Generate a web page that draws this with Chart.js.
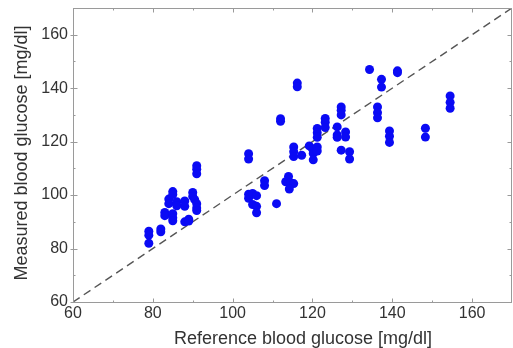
<!DOCTYPE html>
<html><head><meta charset="utf-8">
<script src="https://cdn.jsdelivr.net/npm/chart.js@4.4.0/dist/chart.umd.min.js"></script>
<style>html,body{margin:0;padding:0;background:#fff;overflow:hidden}</style>
</head><body>
<canvas id="c" width="513" height="348"></canvas>
<script>
const referenceGlucose = [79,79,79,82,82,83,83,84,84,85,85,85,85,85,86,86,88,88,88,89,89,90,90,90.5,91,91,91,91,91,91,
  104,104,104,104,105,106,105,106,106,108,108,111,112,112,113.3,114,114.5,115.3,114.2,115.3,115.3,115.3,116.2,116.2,
  117.3,119.2,120,120.2,120.2,121.2,121.2,121.2,121.2,121.2,123.2,123.2,123.2,126.2,126.2,126.2,127.2,127.2,127.2,127.2,
  128.3,128.3,129.3,129.3,134.3,136.3,136.3,136.3,137.3,137.3,139.3,139.3,139.3,141.3,141.3,148.3,148.3,154.5,154.5,154.5];
const measuredGlucose = [86.5,85,82,87.3,86.3,93.5,92.3,98.5,96.8,101.3,100.2,93,91.5,90.4,97.5,96,97.8,95.8,90,91,90.3,101,99.5,98.3,111,109.7,108,96.8,95.2,94.2,
  115.5,113.5,100.3,98.8,100.6,99.8,96.5,95.8,93.4,105.4,103.6,96.8,128.6,127.6,105,107,104.6,104.3,102.3,118,116.2,114.4,141.9,140.5,
  114.9,118.4,117.3,115.6,113.2,118,116.5,124.9,123.3,121.6,128.7,127.3,125.3,125.5,122.5,121.6,133,131.7,130,116.8,
  123.6,121.7,116.2,113.5,147,133,130.8,128.9,143.3,140.4,124,122,119.7,146.5,145.8,125,121.7,137.1,134.7,132.5];
const identityLine = [60, 170];
const axisMin = 60, axisMax = 170;
const majorTicks = [60, 80, 100, 120, 140, 160];
const minorTicks = [70, 90, 110, 130, 150];
const xTitle = 'Reference blood glucose [mg/dl]';
const yTitle = 'Measured blood glucose [mg/dl]';

const points = referenceGlucose.map((x, i) => ({x, y: measuredGlucose[i]}));
const linePts = identityLine.map(v => ({x: v, y: v}));

const framePlugin = {
  id: 'frame',
  afterDatasetsDraw(chart) {
    const {ctx, chartArea: a, scales: {x, y}} = chart;
    ctx.save();
    ctx.strokeStyle = '#9a9a9a';
    ctx.lineWidth = 1;
    const L = Math.round(a.left) + 0.5, T = Math.round(a.top) + 0.5;
    const R = Math.round(a.right) - 0.5, B = Math.round(a.bottom) + 0.5;
    ctx.strokeRect(L, T, R - L, B - T);
    ctx.beginPath();
    const tick = (vals, len, outLeft) => {
      vals.forEach(v => {
        const px = Math.round(x.getPixelForValue(v)) + 0.5;
        ctx.moveTo(px, B); ctx.lineTo(px, B - len);
        ctx.moveTo(px, T); ctx.lineTo(px, T + len);
        const py = Math.round(y.getPixelForValue(v)) + 0.5;
        ctx.moveTo(L - outLeft, py); ctx.lineTo(L + len, py);
        ctx.moveTo(R, py); ctx.lineTo(R - len, py);
      });
    };
    tick(majorTicks, 4, 3);
    tick(minorTicks, 2, 0);
    ctx.stroke();
    ctx.fillStyle = '#333';
    ctx.font = '18px "Liberation Sans", Arial, sans-serif';
    ctx.textAlign = 'center';
    ctx.textBaseline = 'alphabetic';
    ctx.fillText(xTitle, 303, 344);
    ctx.translate(26.5, 153);
    ctx.rotate(-Math.PI / 2);
    ctx.fillText(yTitle, 0, 0);
    ctx.restore();
  }
};

new Chart(document.getElementById('c'), {
  type: 'scatter',
  data: {
    datasets: [
      {data: points, backgroundColor: '#0a0af4', borderWidth: 0, pointRadius: 4.5, pointHoverRadius: 4.5, order: 0},
      {type: 'line', data: linePts, borderColor: '#555', borderWidth: 1.4, borderDash: [8, 5], pointRadius: 0, fill: false, order: 1}
    ]
  },
  options: {
    responsive: false, animation: false, devicePixelRatio: 1,
    layout: {autoPadding: false, padding: {top: 8, right: 1, left: 0, bottom: 0}},
    plugins: {legend: {display: false}, tooltip: {enabled: false}},
    scales: {
      x: {
        type: 'linear', min: axisMin, max: axisMax,
        grid: {display: false, drawTicks: false}, border: {display: false},
        afterBuildTicks: s => { s.ticks = majorTicks.map(v => ({value: v})); },
        afterFit: s => { s.height = 46; s.paddingLeft = 0; s.paddingRight = 0; },
        ticks: {color: '#333', padding: 2, maxRotation: 0, font: {family: '"Liberation Sans", Arial, sans-serif', size: 16}}
      },
      y: {
        type: 'linear', min: axisMin, max: axisMax,
        grid: {display: false, drawTicks: false}, border: {display: false},
        afterBuildTicks: s => { s.ticks = majorTicks.map(v => ({value: v})); },
        afterFit: s => { s.width = 73; s.paddingTop = 0; s.paddingBottom = 0; },
        ticks: {color: '#333', padding: 5, font: {family: '"Liberation Sans", Arial, sans-serif', size: 16}}
      }
    }
  },
  plugins: [framePlugin]
});
</script>
</body></html>
